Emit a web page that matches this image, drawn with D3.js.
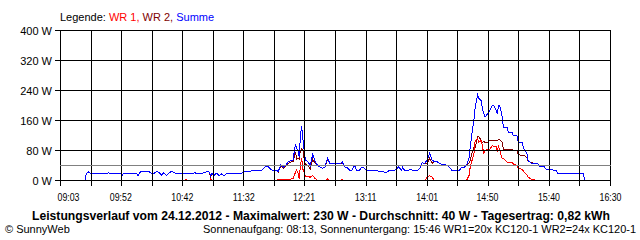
<!DOCTYPE html>
<html><head><meta charset="utf-8">
<script src="https://cdn.jsdelivr.net/npm/d3@7"></script>
<style>
html,body{margin:0;padding:0;background:#fff;}
svg{display:block;}
text{font-family:"Liberation Sans",Arial,sans-serif;}
</style></head>
<body>
<svg id="c" width="640" height="240"></svg>
<script>
const times = ["09:23","09:24","09:26","09:28","09:40","09:42","09:44","09:52","09:53","09:54","10:05","10:06","10:08","10:12","10:15","10:17","10:19","10:21","10:23","10:25","10:27","10:29","10:31","10:33","10:35","10:37","10:44","10:45","10:46","10:50","10:52","10:54","10:58","11:00","11:03","11:04","11:05","11:06","11:08","11:10","11:12","11:14","11:16","11:18","11:30","11:32","11:36","11:38","11:47","11:50","11:52","11:54","11:56","11:58","12:00","12:02","12:04","12:06","12:08","12:10","12:12","12:14","12:15","12:16","12:17","12:18","12:19","12:20","12:21","12:22","12:24","12:26","12:28","12:30","12:32","12:34","12:36","12:38","12:40","12:42","12:44","12:46","12:48","12:50","12:52","12:54","12:56","12:58","13:00","13:02","13:04","13:06","13:08","13:10","13:12","13:25","13:27","13:29","13:31","13:34","13:36","13:38","13:40","13:41","13:43","13:46","13:47","13:49","13:53","13:55","13:57","13:59","14:01","14:03","14:05","14:07","14:09","14:12","14:15","14:17","14:19","14:21","14:25","14:27","14:29","14:31","14:33","14:35","14:36","14:38","14:39","14:40","14:42","14:43","14:45","14:46","14:47","14:48","14:50","14:52","14:54","14:55","14:57","14:58","14:59","15:00","15:02","15:03","15:06","15:07","15:10","15:11","15:14","15:15","15:18","15:20","15:22","15:23","15:26","15:31","15:32","15:36","15:38","15:43","15:44","15:46","15:47","16:08","16:09"];
const summe = [0,19,23,18,18,21,18,18,12,18,18,12,23,25,24,18,19,24,22,14,21,13,19,24,22,18,18,20,18,18,21,18,18,22,24,21,12,19,14,20,12,18,13,19,19,23,23,26,28,38,36,30,26,28,24,42,35,40,50,53,55,98,85,80,62,120,144,110,80,55,50,40,70,50,40,36,33,36,60,45,45,46,44,45,49,36,35,27,28,40,25,28,36,33,26,25,20,24,28,27,30,37,27,35,26,26,31,27,27,32,48,45,55,72,55,50,50,44,44,40,36,27,26,27,35,35,40,59,89,140,160,195,228,219,213,190,178,169,178,187,200,200,187,178,200,200,169,142,142,129,129,120,120,102,102,80,75,53,45,45,37,37,29,29,26,26,19,19,0];
const wr1 = [0,0,0,0,0,0,0,0,0,0,0,0,0,0,0,0,0,0,0,0,0,0,0,0,0,0,0,2,0,0,0,0,0,0,0,0,4,0,0,0,0,0,0,0,0,0,0,0,0,0,0,0,0,0,2,2,3,3,4,4,5,22,28,20,5,40,60,30,22,12,10,9,13,5,0,0,0,0,4,0,0,0,0,0,2,0,0,0,0,0,0,0,0,0,0,0,0,0,0,0,0,0,0,0,0,0,0,0,0,0,0,0,9,13,9,0,0,0,0,0,0,0,0,0,0,0,0,13,36,60,71,107,111,102,107,89,73,80,84,84,93,91,91,80,91,80,58,58,49,49,49,44,40,34,30,22,15,9,3,0,0,0,0,0,0,0,0,0,0];
const wr2 = [0,19,23,18,18,21,18,18,12,18,18,12,23,25,24,18,19,24,22,14,21,13,19,24,22,18,18,18,18,18,21,18,18,22,24,21,8,19,14,20,12,18,13,19,19,23,23,26,28,38,36,30,26,28,22,40,32,37,46,49,50,76,57,60,57,80,84,80,58,43,40,31,57,45,40,36,33,36,56,45,45,46,44,45,47,36,35,27,28,40,25,28,36,33,26,25,20,24,28,27,30,37,27,35,26,26,31,27,27,32,48,45,46,59,46,50,50,44,44,40,36,27,26,27,35,35,40,46,53,80,89,88,117,117,106,101,105,100,102,107,107,107,107,107,109,109,102,84,84,84,84,80,80,69,67,67,60,53,47,45,37,37,29,29,26,26,19,19,0];
const yTicks = [0,80,160,240,320,400];
const xLabels = ["09:03","09:52","10:42","11:32","12:21","13:11","14:01","14:50","15:40","16:30"];
const average = 40;

const toMin = s => { const [h,m] = s.split(":").map(Number); return h*60+m; };
const svg = d3.select("#c");
const x = d3.scaleLinear().domain([toMin("09:03"), toMin("16:30")]).range([60.5, 610.5]);
const y = d3.scaleLinear().domain([0, 400]).range([180.5, 30.5]);

const rows = times.map((t,i)=>({t:toMin(t), s:summe[i], a:wr1[i], b:wr2[i]}));
const line = key => d3.line().x(d=>x(d.t)).y(d=>y(d[key]));

const data = svg.append("g").attr("shape-rendering","crispEdges");
data.append("path").datum(rows).attr("d", line("b")).attr("fill","none").attr("stroke","#800000").attr("stroke-width",1);
data.append("path").datum(rows).attr("d", line("a")).attr("fill","none").attr("stroke","#ff0000").attr("stroke-width",1);
data.append("path").datum(rows).attr("d", line("s")).attr("fill","none").attr("stroke","#0000ff").attr("stroke-width",1);

// grid
const grid = svg.append("g").attr("shape-rendering","crispEdges");
const nV = 18;
const dom = x.domain();
const vTicks = d3.range(nV+1).map(i => dom[0] + (dom[1]-dom[0])*i/nV);
grid.selectAll("line.v").data(vTicks).join("line")
  .attr("x1", d=>Math.round(x(d)-0.5)+0.5).attr("x2", d=>Math.round(x(d)-0.5)+0.5)
  .attr("y1", y(400)).attr("y2", y(0)+5).attr("stroke","#000");
grid.selectAll("line.h").data(yTicks).join("line")
  .attr("x1", 55).attr("x2", x(dom[1])+0.5)
  .attr("y1", d=>y(d)).attr("y2", d=>y(d)).attr("stroke","#000");
grid.append("line").attr("x1",60).attr("x2",x(dom[1])).attr("y1",y(average)).attr("y2",y(average)).attr("stroke","#808080");

svg.append("g").selectAll("text").data(yTicks).join("text")
  .attr("x", 52).attr("y", d=>y(d)+4).attr("text-anchor","end").attr("font-size",11).text(d=>d+" W");

const lblTicks = xLabels.map(toMin);
svg.append("g").selectAll("text").data(lblTicks).join("text")
  .attr("x", (d,i)=> i===0 ? x(d)+8 : x(d)).attr("y", 201).attr("text-anchor","middle").attr("font-size",10)
  .attr("textLength",22).attr("lengthAdjust","spacingAndGlyphs")
  .text((d,i)=>xLabels[i]);

const leg = svg.append("text").attr("x",60).attr("y",21).attr("font-size",11);
leg.append("tspan").attr("fill","#000").text("Legende: ");
leg.append("tspan").attr("fill","#ff0000").text("WR 1, ");
leg.append("tspan").attr("fill","#800000").text("WR 2, ");
leg.append("tspan").attr("fill","#0000ff").text("Summe");

svg.append("text").attr("x",321).attr("y",220).attr("text-anchor","middle").attr("font-size",12).attr("font-weight","bold")
  .attr("textLength",578).attr("lengthAdjust","spacingAndGlyphs")
  .text("Leistungsverlauf vom 24.12.2012 - Maximalwert: 230 W - Durchschnitt: 40 W - Tagesertrag: 0,82 kWh");
svg.append("text").attr("x",5).attr("y",233).attr("font-size",11).text("© SunnyWeb");
svg.append("text").attr("x",636).attr("y",233).attr("text-anchor","end").attr("font-size",11)
  .attr("textLength",433).attr("lengthAdjust","spacingAndGlyphs")
  .text("Sonnenaufgang: 08:13, Sonnenuntergang: 15:46  WR1=20x KC120-1  WR2=24x KC120-1");
</script>
</body></html>
